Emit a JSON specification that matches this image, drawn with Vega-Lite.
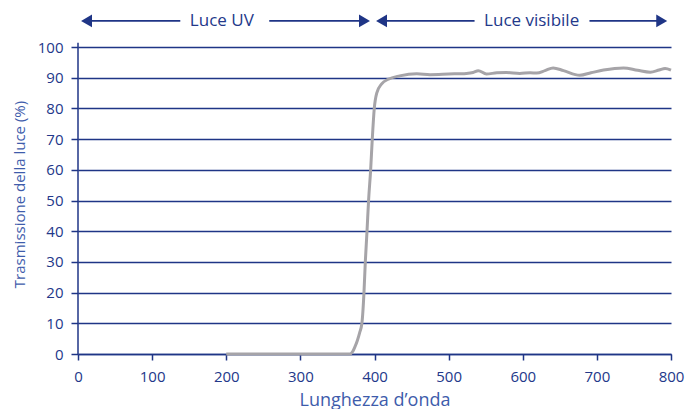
{
  "$schema": "https://vega.github.io/schema/vega-lite/v6.json",
  "width": 593,
  "height": 307,
  "autosize": {"type": "none"},
  "padding": {"left": 78, "top": 47, "right": 14, "bottom": 55},
  "background": "white",
  "config": {
    "view": {"stroke": null},
    "font": "Open Sans"
  },
  "datasets": {
    "curve": [
      {"x": 200, "y": 0}, {"x": 300, "y": 0}, {"x": 367, "y": 0}, {"x": 370.6, "y": 0.8},
      {"x": 373.7, "y": 2.4}, {"x": 377, "y": 4.5}, {"x": 380, "y": 7}, {"x": 383, "y": 10},
      {"x": 385.8, "y": 20}, {"x": 387.6, "y": 30}, {"x": 389.9, "y": 40}, {"x": 392, "y": 50},
      {"x": 394.8, "y": 60}, {"x": 397, "y": 70}, {"x": 399.7, "y": 80}, {"x": 403, "y": 85},
      {"x": 409.7, "y": 88}, {"x": 418.6, "y": 89.5}, {"x": 434, "y": 90.6}, {"x": 457, "y": 91.3},
      {"x": 475, "y": 91.0}, {"x": 500, "y": 91.2}, {"x": 524, "y": 91.4}, {"x": 533, "y": 91.7},
      {"x": 540, "y": 92.3}, {"x": 551, "y": 91.2}, {"x": 565, "y": 91.6}, {"x": 578, "y": 91.7},
      {"x": 596, "y": 91.4}, {"x": 610, "y": 91.6}, {"x": 619, "y": 91.5}, {"x": 630, "y": 92.3},
      {"x": 641, "y": 93.2}, {"x": 655, "y": 92.3}, {"x": 677, "y": 90.8}, {"x": 692, "y": 91.6},
      {"x": 709, "y": 92.5}, {"x": 736, "y": 93.2}, {"x": 755, "y": 92.4}, {"x": 772, "y": 91.8},
      {"x": 784, "y": 92.5}, {"x": 792, "y": 93.0}, {"x": 800, "y": 92.5}
    ],
    "arrowLines": [
      {"x": 8, "x2": 138, "y": 108.5},
      {"x": 258, "x2": 388, "y": 108.5},
      {"x": 408, "x2": 535, "y": 108.5},
      {"x": 690, "x2": 790, "y": 108.5}
    ],
    "arrowHeads": [
      {"x": 11.5, "y": 108.5, "dir": "left"},
      {"x": 386.5, "y": 108.5, "dir": "right"},
      {"x": 409.5, "y": 108.5, "dir": "left"},
      {"x": 787.5, "y": 108.5, "dir": "right"}
    ],
    "labels": [
      {"x": 194, "y": 108.5, "text": "Luce UV"},
      {"x": 612, "y": 108.5, "text": "Luce visibile"}
    ],
    "yAxisLine": [
      {"x": 0, "y": 0, "y2": 101.4}
    ]
  },
  "encoding": {
    "x": {
      "field": "x", "type": "quantitative",
      "scale": {"domain": [0, 800], "nice": false},
      "axis": {
        "values": [0, 100, 200, 300, 400, 500, 600, 700, 800],
        "grid": false, "labelFlush": false, "labelOverlap": false,
        "domainColor": "#1f3586", "domainWidth": 1.5,
        "tickColor": "#1f3586", "tickSize": 6, "tickWidth": 1.5,
        "labelFont": "Open Sans", "labelFontSize": 15, "labelColor": "#23388a", "labelPadding": 9,
        "title": "Lunghezza d’onda",
        "titleFont": "Open Sans", "titleFontSize": 18, "titleFontWeight": "normal", "titleColor": "#3e5cab",
        "titleBaseline": "alphabetic", "titleY": 51
      }
    },
    "y": {
      "field": "y", "type": "quantitative",
      "scale": {"domain": [0, 100], "nice": false},
      "axis": {
        "values": [0, 10, 20, 30, 40, 50, 60, 70, 80, 90, 100],
        "labelOverlap": false, "labelFlush": false,
        "grid": true, "gridColor": "#1f3586", "gridWidth": 1.4,
        "domain": false,
        "tickColor": "#1f3586", "tickSize": 7, "tickWidth": 1.5,
        "labelFont": "Open Sans", "labelFontSize": 15, "labelColor": "#23388a", "labelPadding": 8,
        "title": "Trasmissione della luce (%)",
        "titleFont": "Open Sans", "titleFontSize": 15, "titleFontWeight": "normal", "titleColor": "#3e5cab",
        "titleAngle": -90, "titleBaseline": "bottom", "titleAlign": "center",
        "titleX": -51, "titleY": 147
      }
    }
  },
  "layer": [
    {
      "data": {"name": "curve"},
      "mark": {"type": "line", "color": "#a6a4a8", "strokeWidth": 3, "interpolate": "monotone"}
    },
    {
      "data": {"name": "yAxisLine"},
      "mark": {"type": "rule", "color": "#1f3586", "strokeWidth": 1.5},
      "encoding": {
        "y2": {"field": "y2"}
      }
    },
    {
      "data": {"name": "arrowLines"},
      "mark": {"type": "rule", "color": "#1f3586", "strokeWidth": 1.6},
      "encoding": {
        "x2": {"field": "x2"}
      }
    },
    {
      "data": {"name": "arrowHeads"},
      "mark": {"type": "point", "filled": true, "color": "#1f3586", "size": 160, "opacity": 1},
      "encoding": {
        "shape": {
          "field": "dir", "type": "nominal",
          "scale": {"domain": ["left", "right"], "range": ["triangle-left", "triangle-right"]},
          "legend": null
        }
      }
    },
    {
      "data": {"name": "labels"},
      "mark": {"type": "text", "font": "Open Sans", "fontSize": 17, "color": "#23388a", "align": "center", "baseline": "middle"},
      "encoding": {
        "text": {"field": "text"}
      }
    }
  ]
}
